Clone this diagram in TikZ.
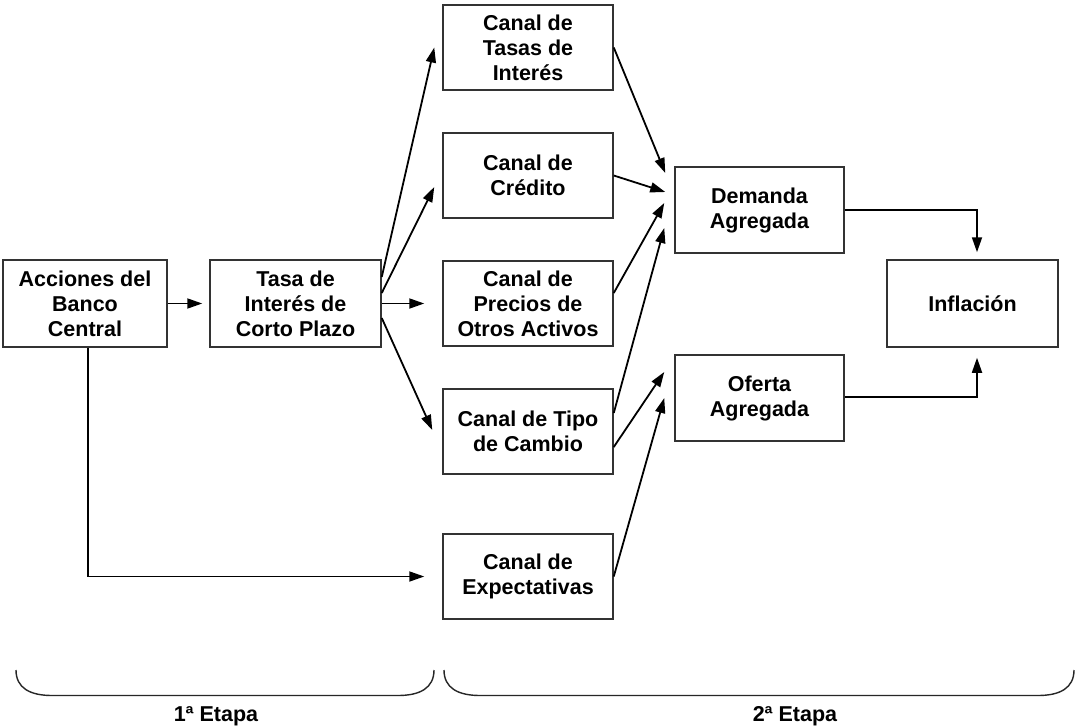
\documentclass[tikz,border=0pt]{standalone}
\usepackage{fontspec}
\setmainfont{Liberation Sans}
\usetikzlibrary{arrows.meta,calc}
\begin{document}
\begin{tikzpicture}[x=1pt,y=-1pt,
  box/.style={draw=black!80,line width=1.5pt,rectangle,inner sep=0pt,align=center,
    font=\fontsize{21.5}{25}\selectfont\bfseries,minimum width=170pt,minimum height=85pt},
  arr/.style={draw=black,line width=1.8pt,-{Triangle[length=15pt,width=10pt]}},
  brace/.style={draw=black!85,line width=1.4pt},
  lbl/.style={font=\fontsize{21.5}{25}\selectfont\bfseries,anchor=base,inner sep=0pt}]
\useasboundingbox[fill=white] (0,0) rectangle (1076,728);
% boxes
\node[box,minimum width=164pt,minimum height=87pt] (acc) at (85,303.5) {Acciones del\\Banco\\Central};
\node[box,minimum width=171pt,minimum height=87pt] (tasa) at (295.5,303.5) {Tasa de\\Interés de\\Corto Plazo};
\node[box] (ct) at (528,47.5) {Canal de\\Tasas de\\Interés};
\node[box] (cc) at (528,175.5) {Canal de\\Crédito};
\node[box] (cp) at (528,303.5) {Canal de\\Precios de\\Otros Activos};
\node[box] (tipo) at (528,431.5) {Canal de Tipo\\de Cambio};
\node[box] (exp) at (528,576.5) {Canal de\\Expectativas};
\node[box,minimum width=169pt,minimum height=86pt] (dem) at (759.5,210) {Demanda\\Agregada};
\node[box,minimum width=169pt,minimum height=86pt] (of) at (759.5,398) {Oferta\\Agregada};
\node[box,minimum width=171pt,minimum height=87pt] (inf) at (972.5,303.5) {Inflación};
% connectors
\draw[arr] (acc.east) -- ($(tasa.west)+(-7,0)$);
\draw[arr] ($(tasa.east)+(0,-26.5)$) -- ($(ct.west)+(-8,0)$);
\draw[arr] ($(tasa.east)+(0,-10.5)$) -- ($(cc.west)+(-8,11.5)$);
\draw[arr] (tasa.east) -- ($(cp.west)+(-18,0)$);
\draw[arr] ($(tasa.east)+(0,14.5)$) -- ($(tipo.west)+(-10,-1.5)$);
\draw[arr] (ct.east) -- ($(dem.west)+(-9,-37)$);
\draw[arr] (cc.east) -- ($(dem.west)+(-9,-18)$);
\draw[arr] ($(cp.east)+(0,-10.5)$) -- ($(dem.west)+(-10,-7)$);
\draw[arr] ($(tipo.east)+(0,-18.5)$) -- ($(dem.west)+(-10,18)$);
\draw[arr] ($(tipo.east)+(0,15.5)$) -- ($(of.west)+(-10,-26)$);
\draw[arr] (exp.east) -- ($(of.west)+(-10,0)$);
\draw[arr] (dem.east) -| ($(inf.north)+(4.5,-7)$);
\draw[arr] ($(of.east)+(0,-1)$) -| ($(inf.south)+(4.5,10)$);
\draw[arr] ($(acc.south)+(3,0)$) |- ($(exp.west)+(-18,0)$);
% braces
\draw[brace] (16,670) .. controls (16,688) and (30,695.5) .. (52,695.5) -- (398,695.5)
  .. controls (420,695.5) and (434,688) .. (434,670);
\draw[brace] (444,670) .. controls (444,688) and (458,695.5) .. (480,695.5) -- (1038,695.5)
  .. controls (1060,695.5) and (1074,688) .. (1074,670);
\node[lbl] (e1) at (216,721) {1ª Etapa};
\node[lbl] (e2) at (795,721) {2ª Etapa};
\end{tikzpicture}
\end{document}
